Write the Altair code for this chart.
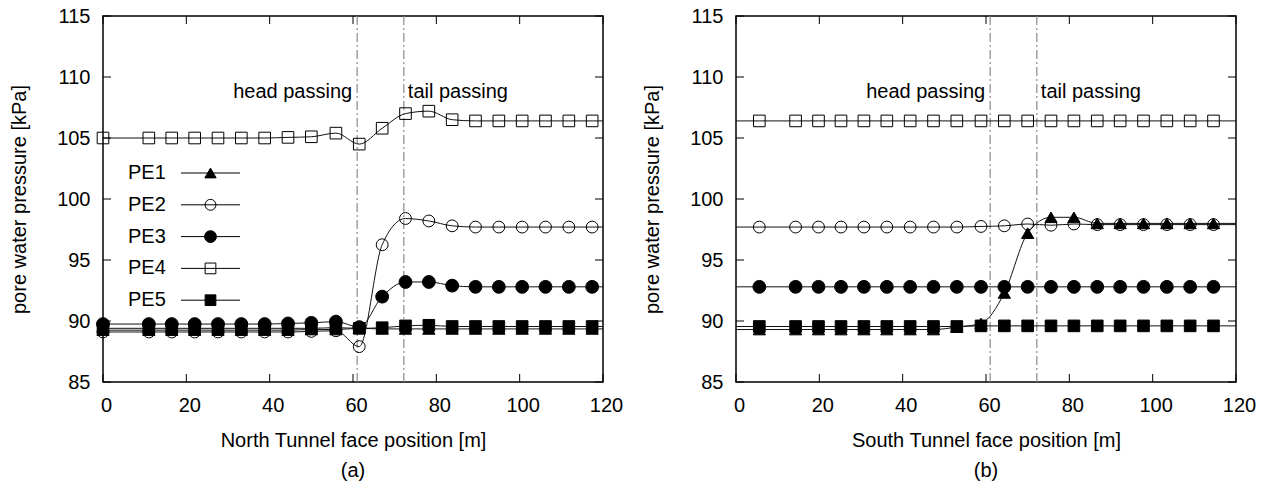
import altair as alt
import pandas as pd

SERIES = ["PE1", "PE2", "PE3", "PE4", "PE5"]

# ---- North Tunnel (a) ----
north_x = [0.0, 11.0, 16.5, 22.0, 27.6, 33.2, 38.8, 44.4, 50.0, 55.9, 61.5,
           67.0, 72.6, 78.2, 83.8, 89.4, 95.0, 100.6, 106.2, 111.8, 117.4]
north_pe1 = [89.25, 89.25, 89.25, 89.25, 89.25, 89.25, 89.25, 89.25, 89.3, 89.3, 89.4,
             89.35, 89.35, 89.35, 89.35, 89.35, 89.35, 89.35, 89.35, 89.35, 89.35]
north_pe2 = [89.1, 89.1, 89.1, 89.1, 89.1, 89.1, 89.1, 89.1, 89.15, 89.2, 87.9,
             96.25, 98.4, 98.2, 97.8, 97.7, 97.7, 97.7, 97.7, 97.7, 97.7]
north_pe3 = [89.75, 89.75, 89.75, 89.75, 89.75, 89.75, 89.75, 89.8, 89.85, 89.95, 89.5,
             92.0, 93.2, 93.2, 92.9, 92.8, 92.8, 92.8, 92.8, 92.8, 92.8]
north_pe4 = [105.0, 105.0, 105.0, 105.0, 105.0, 105.0, 105.0, 105.05, 105.1, 105.4, 104.5,
             105.8, 107.0, 107.2, 106.5, 106.4, 106.4, 106.4, 106.4, 106.4, 106.4]
north_pe5 = [89.4, 89.4, 89.4, 89.4, 89.4, 89.4, 89.4, 89.4, 89.4, 89.45, 89.4,
             89.45, 89.6, 89.65, 89.55, 89.55, 89.55, 89.55, 89.55, 89.55, 89.55]

# ---- South Tunnel (b) ----
south_x = [5.6, 14.3, 19.8, 25.2, 30.7, 36.2, 41.8, 47.4, 53.0, 58.8,
           64.4, 70.0, 75.6, 81.1, 86.7, 92.2, 97.8, 103.4, 109.0, 114.6]
south_pe1 = [89.3, 89.3, 89.3, 89.3, 89.3, 89.3, 89.3, 89.3, 89.5, 89.8,
             92.3, 97.2, 98.5, 98.5, 98.0, 98.0, 98.0, 98.0, 98.0, 98.0]
south_pe2 = [97.7, 97.7, 97.7, 97.7, 97.7, 97.7, 97.7, 97.7, 97.7, 97.75,
             97.8, 97.95, 97.85, 97.95, 97.9, 97.9, 97.9, 97.9, 97.9, 97.9]
south_pe3 = [92.8] * 20
south_pe4 = [106.4] * 20
south_pe5 = [89.55, 89.55, 89.55, 89.55, 89.55, 89.55, 89.55, 89.55, 89.55, 89.6,
             89.6, 89.6, 89.6, 89.6, 89.6, 89.6, 89.6, 89.6, 89.6, 89.6]

x_ticks = [0, 20, 40, 60, 80, 100, 120]
y_ticks = [85, 90, 95, 100, 105, 110, 115]
event_x = [61.0, 72.2]
event_labels = ["head passing", "tail passing"]

# ---- styles ----
SHAPES = {"PE1": "triangle-up", "PE2": "circle", "PE3": "circle", "PE4": "square", "PE5": "square"}
FILLS = {"PE1": "black", "PE2": "transparent", "PE3": "black", "PE4": "transparent", "PE5": "black"}
SIZES = {"PE1": 150, "PE2": 140, "PE3": 165, "PE4": 135, "PE5": 135}
DRAW_ORDER = ["PE2", "PE3", "PE4", "PE5", "PE1"]

W, H = 500, 366
FONT = "Liberation Sans"
FS = 20

xsc = alt.Scale(domain=[0, 120], nice=False, zero=False)
ysc = alt.Scale(domain=[85, 115], nice=False, zero=False)


def panel(xs, vals, xtitle, tag, legend):
    pts, lines = [], []
    for s in DRAW_ORDER:
        for x, y in zip(xs, vals[s]):
            pts.append({"x": x, "y": y, "series": s, "shape": SHAPES[s],
                        "fillc": FILLS[s], "sz": SIZES[s]})
        ys = vals[s]
        seq = [(0.0, ys[0])] if xs[0] > 0 else []
        seq += list(zip(xs, ys))
        seq += [(120.0, ys[-1])]
        for x, y in seq:
            lines.append({"x": x, "y": y, "series": s})
    pts = pd.DataFrame(pts)
    lines = pd.DataFrame(lines)

    xaxis = alt.Axis(values=x_ticks, title=xtitle, labelPadding=13, labelOffset=3,
                     titlePadding=15, labelFlush=False)
    yaxis = alt.Axis(values=y_ticks, title="pore water pressure [kPa]", labelPadding=13,
                     titlePadding=27, labelFlush=False)
    X = alt.X("x:Q", scale=xsc, axis=xaxis)
    Y = alt.Y("y:Q", scale=ysc, axis=yaxis)

    line_layer = alt.Chart(lines).mark_line(interpolate="monotone", color="#111111",
                                            strokeWidth=1).encode(x=X, y=Y, detail="series:N")
    point_layer = alt.Chart(pts).mark_point(stroke="black", strokeWidth=1, opacity=1).encode(
        x=X, y=Y,
        shape=alt.Shape("shape:N", scale=None),
        fill=alt.Fill("fillc:N", scale=None),
        size=alt.Size("sz:Q", scale=None),
    )

    ev = pd.DataFrame({"ex": event_x, "label": event_labels})
    ev_rule = alt.Chart(ev).mark_rule(color="#8a8a8a", strokeWidth=1.2,
                                      strokeDash=[9, 3, 2, 3]).encode(
        x=alt.X("ex:Q", scale=xsc, axis=xaxis))
    ev_head = alt.Chart(ev.iloc[[0]]).mark_text(align="right", baseline="alphabetic", dx=-5,
                                                font=FONT, fontSize=FS, color="black").encode(
        x=alt.X("ex:Q", scale=xsc, axis=xaxis), y=alt.value(81.5), text="label:N")
    ev_tail = alt.Chart(ev.iloc[[1]]).mark_text(align="left", baseline="alphabetic", dx=4,
                                                font=FONT, fontSize=FS, color="black").encode(
        x=alt.X("ex:Q", scale=xsc, axis=xaxis), y=alt.value(81.5), text="label:N")

    xt = pd.DataFrame({"v": x_ticks})
    yt = pd.DataFrame({"v": y_ticks})
    tick_b = alt.Chart(xt).mark_rule(color="black", strokeWidth=1).encode(
        x=alt.X("v:Q", scale=xsc, axis=xaxis), y=alt.value(H), y2=alt.value(H - 8))
    tick_t = alt.Chart(xt).mark_rule(color="black", strokeWidth=1).encode(
        x=alt.X("v:Q", scale=xsc, axis=xaxis), y=alt.value(0), y2=alt.value(8))
    tick_l = alt.Chart(yt).mark_rule(color="black", strokeWidth=1).encode(
        y=alt.Y("v:Q", scale=ysc, axis=yaxis), x=alt.value(0), x2=alt.value(8))
    tick_r = alt.Chart(yt).mark_rule(color="black", strokeWidth=1).encode(
        y=alt.Y("v:Q", scale=ysc, axis=yaxis), x=alt.value(W), x2=alt.value(W - 8))

    layers = [ev_rule, tick_b, tick_t, tick_l, tick_r, line_layer, point_layer, ev_head, ev_tail]

    if legend:
        lg = pd.DataFrame({"series": SERIES, "idx": list(range(len(SERIES))),
                           "shape": [SHAPES[s] for s in SERIES],
                           "fillc": [FILLS[s] for s in SERIES],
                           "sz": [SIZES[s] * 0.85 for s in SERIES]})
        base = alt.Chart(lg).transform_calculate(py="157 + 31.8 * datum.idx")
        lg_text = base.mark_text(align="left", baseline="middle", font=FONT, fontSize=FS,
                                 color="black").encode(
            x=alt.value(25), y=alt.Y("py:Q", scale=None), text="series:N")
        lg_line = base.mark_rule(color="black", strokeWidth=1).encode(
            x=alt.value(78), x2=alt.value(137), y=alt.Y("py:Q", scale=None))
        lg_pt = base.mark_point(stroke="black", strokeWidth=1, opacity=1).encode(
            x=alt.value(107.5), y=alt.Y("py:Q", scale=None),
            shape=alt.Shape("shape:N", scale=None),
            fill=alt.Fill("fillc:N", scale=None),
            size=alt.Size("sz:Q", scale=None))
        layers += [lg_line, lg_pt, lg_text]

    return alt.layer(*layers).properties(
        width=W, height=H,
        title=alt.TitleParams(tag, orient="bottom", font=FONT, fontSize=FS,
                              fontWeight="normal", color="black", offset=11),
    )


north_vals = {"PE1": north_pe1, "PE2": north_pe2, "PE3": north_pe3, "PE4": north_pe4, "PE5": north_pe5}
south_vals = {"PE1": south_pe1, "PE2": south_pe2, "PE3": south_pe3, "PE4": south_pe4, "PE5": south_pe5}

left = panel(north_x, north_vals, "North Tunnel face position [m]", "(a)", True)
right = panel(south_x, south_vals, "South Tunnel face position [m]", "(b)", False)

chart = alt.hconcat(left, right, spacing=133, bounds="flush").properties(
    padding={"left": 8, "top": 5, "right": 5, "bottom": 5},
    background="white",
).configure_view(stroke="black", strokeWidth=1.5).configure_axis(
    grid=False, domain=False, ticks=False, tickSize=0,
    labelFont=FONT, labelFontSize=FS, labelColor="black",
    titleFont=FONT, titleFontSize=FS, titleFontWeight="normal", titleColor="black",
).configure_title(font=FONT, fontSize=FS)

chart.save("out.html", embed_options={"renderer": "svg", "actions": False})
